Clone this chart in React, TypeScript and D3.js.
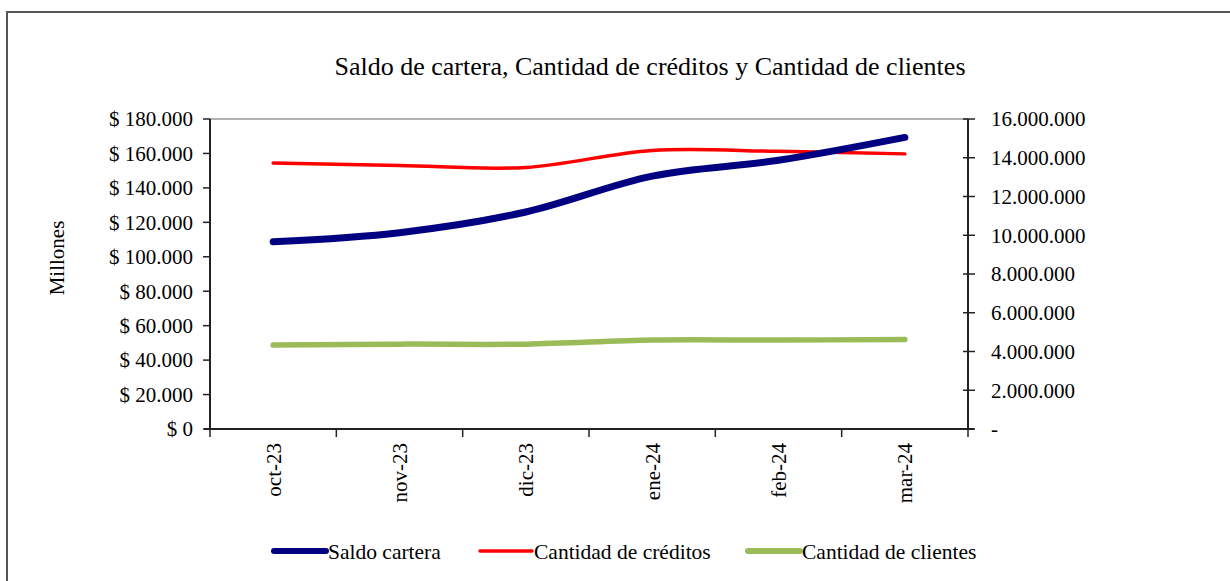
import React from 'react';
import * as d3 from 'd3';

const categories = ['oct-23', 'nov-23', 'dic-23', 'ene-24', 'feb-24', 'mar-24'];
const saldoCartera = [108700, 114000, 126000, 146800, 156000, 169300];
const cantidadCreditos = [13730000, 13600000, 13500000, 14380000, 14330000, 14200000];
const cantidadClientes = [4330000, 4380000, 4380000, 4590000, 4590000, 4620000];
const leftTicks = [0, 20000, 40000, 60000, 80000, 100000, 120000, 140000, 160000, 180000];
const rightTicks = [0, 2000000, 4000000, 6000000, 8000000, 10000000, 12000000, 14000000, 16000000];

const serif = '"Liberation Serif", "Times New Roman", serif';

const fmtNum = (v: number) => {
  const s = Math.round(v).toString();
  return s.replace(/\B(?=(\d{3})+(?!\d))/g, '.');
};

export default function App() {
  const width = 1230, height = 581;
  const margin = {left: 210, right: 262, top: 119, bottom: 152};
  const x0 = margin.left, x1 = width - margin.right;
  const y0 = height - margin.bottom, y1 = margin.top;

  const x = d3.scaleBand().domain(categories).range([x0, x1]).paddingInner(0).paddingOuter(0);
  const cx = (c: string) => (x(c) || 0) + x.bandwidth() / 2;
  const yL = d3.scaleLinear().domain([0, 180000]).range([y0, y1]);
  const yR = d3.scaleLinear().domain([0, 16000000]).range([y0, y1]);

  const curve = d3.curveCardinal.tension(0);
  const lineL = d3.line<number>().x((d, i) => cx(categories[i])).y(d => yL(d)).curve(curve);
  const lineR = d3.line<number>().x((d, i) => cx(categories[i])).y(d => yR(d)).curve(curve);

  const boundaries = categories.map(c => x(c) || 0).concat([x1]);

  const legend = [
    {label: 'Saldo cartera', color: '#000080', w: 6, x: 274},
    {label: 'Cantidad de créditos', color: '#ff0000', w: 3.5, x: 480},
    {label: 'Cantidad de clientes', color: '#9bbb59', w: 6, x: 748},
  ];

  return (
    <svg width={width} height={height} style={{position: 'absolute', left: 0, top: 0}} fontFamily={serif}>
      <rect x={0} y={0} width={width} height={height} fill="#fff" />
      <rect x={7} y={12} width={1240} height={620} fill="none" stroke="#555" strokeWidth={2} />

      <text x={650} y={75} textAnchor="middle" fontSize={26} fill="#000">
        Saldo de cartera, Cantidad de créditos y Cantidad de clientes
      </text>

      {/* plot frame */}
      <line x1={x0} x2={x1} y1={y1} y2={y1} stroke="#999" strokeWidth={1.5} />
      <line x1={x0} x2={x0} y1={y1} y2={y0} stroke="#222" strokeWidth={2} />
      <line x1={x1} x2={x1} y1={y1} y2={y0} stroke="#222" strokeWidth={2} />
      <line x1={x0 - 6} x2={x1 + 6} y1={y0} y2={y0} stroke="#222" strokeWidth={2} />

      {/* left axis */}
      {leftTicks.map(t => (
        <g key={'l' + t}>
          <line x1={x0 - 7} x2={x0} y1={yL(t)} y2={yL(t)} stroke="#222" strokeWidth={1.5} />
          <text x={193} y={yL(t)} dy="0.35em" textAnchor="end" fontSize={21}>
            {'$ ' + fmtNum(t)}
          </text>
        </g>
      ))}

      {/* right axis */}
      {rightTicks.map(t => (
        <g key={'r' + t}>
          <line x1={x1 - 5} x2={x1 + 7} y1={yR(t)} y2={yR(t)} stroke="#222" strokeWidth={1.5} />
          <text x={991} y={yR(t)} dy="0.35em" textAnchor="start" fontSize={21}>
            {t === 0 ? '-' : fmtNum(t)}
          </text>
        </g>
      ))}

      {/* x axis */}
      {boundaries.map((b, i) => (
        <line key={'b' + i} x1={b} x2={b} y1={y0} y2={y0 + 8} stroke="#222" strokeWidth={1.5} />
      ))}
      {categories.map(c => (
        <text key={c} transform={`translate(${cx(c)},${y0 + 14}) rotate(-90)`} textAnchor="end"
          dy="0.35em" fontSize={21}>
          {c}
        </text>
      ))}

      <text transform={`translate(57,258) rotate(-90)`} textAnchor="middle" dy="0.35em" fontSize={21}>
        Millones
      </text>

      {/* series */}
      <path d={lineR(cantidadClientes) || ''} fill="none" stroke="#9bbb59" strokeWidth={5.5} strokeLinecap="round" />
      <path d={lineR(cantidadCreditos) || ''} fill="none" stroke="#ff0000" strokeWidth={3.5} strokeLinecap="round" />
      <path d={lineL(saldoCartera) || ''} fill="none" stroke="#000080" strokeWidth={7} strokeLinecap="round" />

      {/* legend */}
      {legend.map(l => (
        <g key={l.label}>
          <line x1={l.x} x2={l.x + 52} y1={551} y2={551} stroke={l.color} strokeWidth={l.w} strokeLinecap="round" />
          <text x={l.x + 54} y={551} dy="0.35em" fontSize={21.5}>{l.label}</text>
        </g>
      ))}
    </svg>
  );
}
